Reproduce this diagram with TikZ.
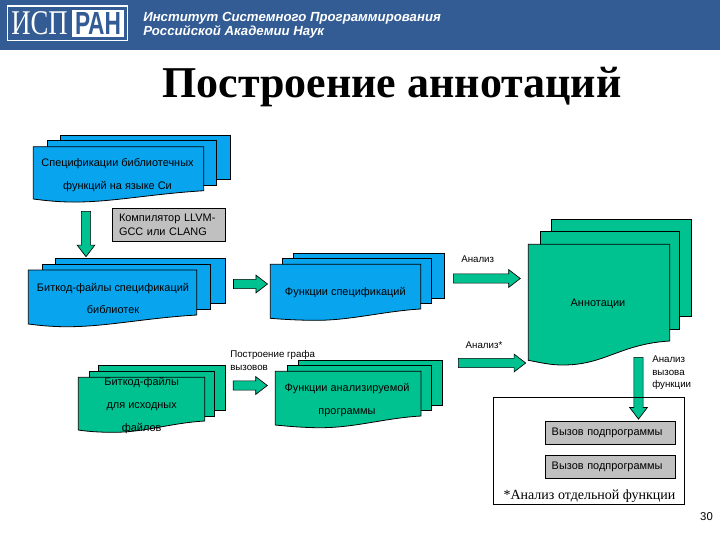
\documentclass[tikz,border=0pt]{standalone}
\usepackage{fontspec}
\setmainfont{Liberation Sans}
\newfontfamily\serifface{Liberation Serif}
\usetikzlibrary{shapes.arrows}
\definecolor{headblue}{HTML}{335C95}
\definecolor{pageblue}{HTML}{08A4EE}
\definecolor{pagegreen}{HTML}{00C291}
\definecolor{boxgray}{HTML}{C0C0C0}
\tikzset{
  bluepage/.style={draw=black, fill=pageblue, line width=0.6pt},
  greenpage/.style={draw=black, fill=pagegreen, line width=0.6pt},
  blockarrow/.style={single arrow, draw=black, fill=pagegreen, line width=0.5pt, inner sep=3.2pt,
    single arrow head extend=3.2pt, single arrow tip angle=75, single arrow head indent=0pt},
  pagetext/.style={align=center, yshift=-1.1pt, font=\fontsize{8.2}{17.2}\selectfont},
  smalltext/.style={align=left, inner sep=0pt, font=\fontsize{7.3}{9.4}\selectfont},
  callbox/.style={draw=black, fill=boxgray, line width=0.5pt, minimum height=17pt, align=left,
    inner xsep=4.8pt, inner ysep=0pt, text width=87.9pt, font=\fontsize{8.2}{10}\selectfont},
}
\begin{document}
\begin{tikzpicture}[x=0.75pt, y=-0.75pt]
\useasboundingbox (0,0) rectangle (720,540);

\fill[headblue] (0,0) rectangle (720,49.5);
\draw[white, line width=1pt] (7.5,6) rectangle (127.5,40.5);
\fill[white] (72,9.5) rectangle (124,37);
\node[white, font=\serifface\fontsize{26}{26}\selectfont, xscale=0.77, transform shape, inner sep=0pt] (logo_isp) at (39.5,23.5) {ИСП};
\node[headblue, font=\bfseries\fontsize{24}{24}\selectfont, xscale=0.71, transform shape, inner sep=0pt] (logo_ran) at (98,23.5) {РАН};
\node[white, anchor=west, inner sep=0pt, font=\bfseries\itshape\fontsize{9.9}{9.9}\selectfont] (head_a) at (143,18.5) {Институт Системного Программирования};
\node[white, anchor=west, inner sep=0pt, font=\bfseries\itshape\fontsize{9.9}{9.9}\selectfont] (head_b) at (143,32) {Российской Академии Наук};
\node[font=\serifface\bfseries\fontsize{33}{33}\selectfont, inner sep=0pt] (title) at (392,87) {Построение аннотаций};

\draw[bluepage] (60.3,135.3) rectangle (230.3,179);
\draw[bluepage] (47.3,140.3) rectangle (216.7,185);
\draw[bluepage] (33.3,146.7) -- (203.7,146.7) -- (203.7,190.7) .. controls (150,194) and (110,202.5) .. (72,202) .. controls (58,202) and (45,200.5) .. (33.3,199) -- cycle;
\node[pagetext] (spec_lib) at (117.5,173.5) {Спецификации библиотечных\\функций на языке Си};

\node[callbox, minimum height=24.8pt, text width=75pt, inner xsep=5pt] (compiler) at (169,224.8) {Компилятор LLVM-\\GCC или CLANG};

\draw[bluepage] (55.3,258.3) rectangle (225.3,303.3);
\draw[bluepage] (42.7,264.3) rectangle (210.3,309);
\draw[bluepage] (28.3,270) -- (196.7,270) -- (196.7,315) .. controls (145,318) and (105,327) .. (66,326.7) .. controls (52,326.7) and (40,325.5) .. (28.3,324) -- cycle;
\node[pagetext] (bit_spec) at (113,297) {Биткод-файлы спецификаций\\библиотек};

\draw[bluepage] (293.3,253.3) rectangle (444.3,298.3);
\draw[bluepage] (282.3,258.3) rectangle (431.7,303.3);
\draw[bluepage] (270.3,264.3) -- (420.7,264.3) -- (420.7,309) .. controls (385,311) and (350,320.5) .. (316,320.3) .. controls (300,320.3) and (285,319.5) .. (270.3,318.3) -- cycle;
\node[pagetext] (func_spec) at (345.3,291) {Функции спецификаций};

\draw[greenpage] (551.3,219.3) rectangle (691.7,316.7);
\draw[greenpage] (540.3,231.7) rectangle (679.7,329.3);
\draw[greenpage] (528.3,244.3) -- (669.7,244.3) -- (669.7,341) .. controls (620,344) and (605,365) .. (563,365) .. controls (550,365) and (540,362.5) .. (528.3,360.3) -- cycle;
\node[pagetext] (annot) at (598,302) {Аннотации};

\draw[greenpage] (98.3,365.3) rectangle (225.7,410.3);
\draw[greenpage] (89.3,371.3) rectangle (214.7,416);
\draw[greenpage] (78.3,377.3) -- (204.7,377.3) -- (204.7,421) .. controls (170,423) and (145,432.5) .. (112,432.3) .. controls (100,432.3) and (88,431.5) .. (78.3,430) -- cycle;
\node[pagetext] (bit_src) at (141.7,404.3) {Биткод-файлы\\для исходных\\файлов};

\draw[greenpage] (298.3,360) rectangle (442.7,405);
\draw[greenpage] (287.7,365.3) rectangle (431.7,410.7);
\draw[greenpage] (275.3,371.3) -- (421,371.3) -- (421,416) .. controls (385,418) and (355,427.8) .. (320,427.7) .. controls (305,427.7) and (290,426.5) .. (275.3,425) -- cycle;
\node[pagetext] (func_prog) at (347,398.7) {Функции анализируемой\\программы};

\node[blockarrow, rotate=-90, minimum height=34pt] (arrow_a) at (86,231) {};
\node[blockarrow, minimum height=25.5pt] (arrow_b) at (247.5,284) {};
\node[blockarrow, minimum height=50.2pt] (arrow_c) at (483.8,278.5) {};
\node[blockarrow, minimum height=50.5pt] (arrow_d) at (489,363) {};
\node[blockarrow, rotate=-90, minimum height=46.3pt] (arrow_e) at (638.5,385.2) {};
\node[blockarrow, minimum height=25.5pt] (arrow_f) at (247.3,385.5) {};

\node[smalltext] (lbl_a) at (477.7,259) {Анализ};
\node[smalltext] (lbl_b) at (484,344.7) {Анализ*};
\node[smalltext, anchor=west] (lbl_c) at (230,360.3) {Построение графа\\вызовов};
\node[smalltext, anchor=west] (lbl_d) at (652,373) {Анализ\\вызова\\функции};

\draw[line width=0.6pt] (493.3,397.3) rectangle (684.3,504.3);
\node[callbox] (call_a) at (610.3,433) {Вызов подпрограммы};
\node[callbox] (call_b) at (610.3,467) {Вызов подпрограммы};
\node[font=\serifface\fontsize{10.5}{10.5}\selectfont, inner sep=0pt] (note) at (589.5,496) {*Анализ отдельной функции};
\node[font=\fontsize{8.5}{8.5}\selectfont, inner sep=0pt] (page_no) at (706.5,516.5) {30};
\end{tikzpicture}
\end{document}
